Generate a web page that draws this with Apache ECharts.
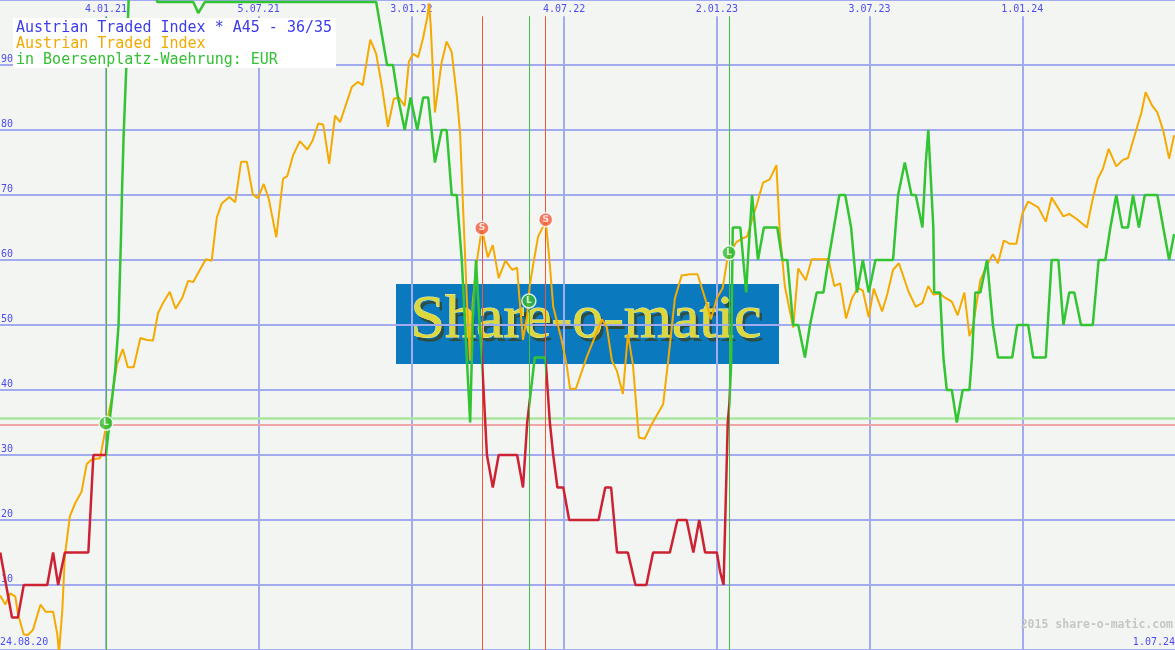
<!DOCTYPE html>
<html><head><meta charset="utf-8">
<script src="https://cdn.jsdelivr.net/npm/echarts@6/dist/echarts.min.js"></script>
<style>html,body{margin:0;padding:0;background:#f3f5f2;}#c{width:1175px;height:650px;}</style>
</head><body><div id="c"></div>
<script>
// x values are days since 24.08.20
const xMin = 6.7, xMax = 1407;
const tickDays = [133, 315, 497, 679, 861, 1043, 1225];
const tickLabels = ['4.01.21', '5.07.21', '3.01.22', '4.07.22', '2.01.23', '3.07.23', '1.01.24'];
const edgeDays = [6.7, 1407];
const edgeLabels = ['24.08.20', '1.07.24'];

// Austrian Traded Index (scaled)
const atiData = [[7,8.4],[13,7.0],[19,8.7],[25,8.2],[28,5.6],[35,2.4],[40,2.3],[46,3.1],[55,7.0],[61,5.9],[70,5.9],[75,2.4],[77,-0.5],[81,6.2],[84,14.5],[90,20.6],[96,22.5],[104,24.4],[110,28.6],[116,29.3],[126,29.5],[132,33.7],[140,38.8],[146,43.9],[153,46.3],[159,43.5],[166,43.5],[174,48.0],[182,47.7],[189,47.6],[195,51.8],[201,53.4],[209,55.1],[216,52.5],[224,54.2],[231,56.8],[237,56.6],[245,58.5],[252,60.1],[259,59.9],[265,66.5],[271,68.7],[280,69.7],[287,68.9],[294,75.1],[301,75.1],[308,70.1],[314,69.5],[321,71.7],[327,69.4],[336,63.5],[344,72.5],[349,72.9],[356,76.1],[364,78.3],[373,77.0],[379,78.3],[386,81.0],[392,80.8],[399,74.8],[406,82.2],[412,81.2],[420,84.3],[426,86.6],[433,87.4],[439,86.9],[448,93.9],[455,91.7],[462,86.6],[469,80.5],[476,84.8],[482,85.0],[489,83.7],[494,90.5],[499,91.7],[505,91.2],[511,94.2],[516,97.4],[518,99.5],[520,96.1],[525,82.7],[533,90.4],[539,93.6],[545,92.0],[551,85.3],[555,79.6],[559,66.8],[563,54.1],[567,44.5],[570,53.4],[575,59.8],[581,64.9],[588,60.4],[594,62.3],[601,57.2],[609,59.9],[617,58.5],[623,58.8],[625,55.3],[630,47.7],[635,51.5],[638,56.0],[642,59.2],[648,63.6],[653,64.9],[657,66.2],[662,59.2],[666,52.8],[676,47.7],[682,43.9],[686,40.2],[693,40.2],[706,45.1],[716,48.3],[724,50.9],[730,49.6],[736,44.5],[742,42.9],[749,39.4],[755,48.6],[761,43.9],[768,32.7],[775,32.5],[784,34.9],[797,37.8],[803,44.5],[811,54.1],[819,57.6],[829,57.8],[838,57.8],[847,54.1],[854,50.9],[861,54.1],[868,55.7],[873,59.8],[877,61.1],[884,62.7],[891,63.3],[897,63.6],[903,66.2],[909,68.7],[916,71.9],[924,72.4],[932,74.6],[936,64.3],[942,56.0],[952,49.6],[958,58.7],[967,56.9],[974,60.1],[984,60.1],[994,60.1],[1001,56.0],[1008,56.4],[1015,51.0],[1022,54.1],[1029,55.7],[1035,55.3],[1042,51.2],[1048,55.6],[1058,52.1],[1064,54.7],[1071,58.5],[1078,59.5],[1089,55.3],[1098,52.8],[1106,53.4],[1113,56.0],[1119,54.7],[1127,54.8],[1133,54.2],[1141,53.6],[1148,51.5],[1156,55.0],[1162,48.3],[1166,49.6],[1175,56.9],[1183,59.2],[1190,60.9],[1196,59.5],[1203,63.0],[1210,62.5],[1218,62.5],[1225,67.1],[1232,69.0],[1244,68.1],[1253,65.9],[1260,69.6],[1274,66.7],[1281,67.1],[1291,66.2],[1302,65.0],[1309,69.4],[1315,72.5],[1321,74.0],[1328,77.1],[1337,74.4],[1345,75.4],[1351,75.7],[1359,79.2],[1367,82.7],[1372,85.8],[1380,83.7],[1386,82.7],[1393,79.9],[1400,75.6],[1406,79.2]];

// A45 indicator (red when out of the market, green when invested)
const a45Data = [[7,15],[21,5],[28,5],[35,10],[63,10],[70,15],[76,10],[84,15],[112,15],[118,30],[133,30],[138,36],[144,43],[148,50],[149,55],[151,64],[152,70],[154,79],[157,89],[160,100],[173,108],[189,108],[194,99.7],[237,99.7],[243,98],[245,98],[251,99.7],[455,99.7],[468,90],[475,90],[481,85],[489,80],[496,85],[504,80],[511,85],[517,85],[525,75],[533,80],[539,80],[545,70],[551,70],[557,60],[561,50],[563,45],[567,35],[570,50],[574,60],[576,55],[581,45],[587,30],[594,25],[601,30],[623,30],[630,25],[635,35],[637,35],[644,45],[656,45],[657,44.5],[662,35],[666,30],[671,25],[678,25],[685,20],[720,20],[728,25],[735,25],[742,15],[755,15],[764,10],[777,10],[785,15],[805,15],[814,20],[825,20],[833,15],[840,20],[847,15],[861,15],[865,12],[869,10],[871,20],[874,35],[876,38],[878,44],[879,55],[880,65],[889,65],[896,55],[898,60],[903,70],[910,60],[917,65],[933,65],[939,60],[945,60],[952,50],[958,50],[966,45],[972,50],[980,55],[988,55],[994,60],[1007,70],[1014,70],[1021,65],[1028,55],[1035,60],[1042,55],[1050,60],[1071,60],[1077,70],[1085,75],[1093,70],[1098,70],[1106,65],[1110,75],[1113,80],[1115,75],[1119,65],[1120,55],[1127,55],[1131,45],[1135,40],[1141,40],[1147,35],[1154,40],[1162,40],[1165,45],[1169,55],[1175,55],[1183,60],[1190,50],[1196,45],[1213,45],[1219,50],[1232,50],[1238,45],[1253,45],[1260,60],[1268,60],[1274,50],[1281,55],[1287,55],[1295,50],[1309,50],[1316,60],[1324,60],[1330,65],[1337,70],[1344,65],[1351,65],[1357,70],[1364,65],[1371,70],[1386,70],[1393,65],[1400,60],[1406,64]];

const signalDays = [133, 581, 637, 657, 875.5];
const signalTypes = ['L', 'S', 'L', 'S', 'L'];
const signalPrices = [34.9, 64.9, 53.7, 66.2, 61.1];
const buyLevel = 35.7, sellLevel = 34.7;

const GREEN = '#33c433', RED = '#cc2233', ORANGE = '#f4aa00';
const GRID = '#a2abf0', LABEL = '#4c4cf0', MONO = '"DejaVu Sans Mono", monospace';
const LINE_TOP = 97.5;

// visual pieces: red before first buy, green after L, red after S
const pieces = [];
let prev = null;
signalDays.forEach(function (d, i) {
  const p = { lt: d, color: i === 0 ? RED : (signalTypes[i - 1] === 'L' ? GREEN : RED) };
  if (prev !== null) p.gte = prev;
  pieces.push(p);
  prev = d;
});
pieces.push({ gte: prev, color: signalTypes[signalTypes.length - 1] === 'L' ? GREEN : RED });

const markData = [];
tickDays.forEach(function (d) {
  markData.push([{ coord: [d, LINE_TOP], lineStyle: { color: GRID, width: 2, type: 'solid' } }, { coord: [d, 0] }]);
});
markData.push([{ coord: [xMin, buyLevel], lineStyle: { color: '#a8e6a0', width: 2.5, type: 'solid' } }, { coord: [xMax, buyLevel] }]);
markData.push([{ coord: [xMin, sellLevel], lineStyle: { color: '#f0a6a6', width: 2, type: 'solid' } }, { coord: [xMax, sellLevel] }]);
signalDays.forEach(function (d, i) {
  markData.push([{ coord: [d, LINE_TOP], lineStyle: { color: signalTypes[i] === 'L' ? '#44bb44' : '#f05535', width: 1, type: 'solid' } }, { coord: [d, 0] }]);
});

const chart = echarts.init(document.getElementById('c'), null, { renderer: 'canvas' });
chart.setOption({
  backgroundColor: '#f3f5f2',
  animation: false,
  grid: { left: 0, right: 0, top: 0, bottom: 0, containLabel: false, outerBoundsMode: 'none' },
  xAxis: [{
    type: 'value', position: 'top', min: xMin, max: xMax,
    axisLine: { show: false }, axisTick: { show: false }, splitLine: { show: false },
    axisLabel: {
      inside: true, margin: 4, color: LABEL, fontSize: 10, fontFamily: MONO,
      customValues: tickDays,
      formatter: function (v) { const i = tickDays.indexOf(v); return i >= 0 ? tickLabels[i] : ''; }
    }
  }, {
    type: 'value', position: 'bottom', min: xMin, max: xMax,
    axisLine: { show: false }, axisTick: { show: false }, splitLine: { show: false },
    axisLabel: {
      inside: true, margin: 3, color: LABEL, fontSize: 10, fontFamily: MONO,
      customValues: edgeDays, showMinLabel: true, showMaxLabel: true,
      alignMinLabel: 'left', alignMaxLabel: 'right',
      formatter: function (v) { const i = edgeDays.indexOf(v); return i >= 0 ? edgeLabels[i] : ''; }
    }
  }],
  yAxis: {
    type: 'value', min: 0, max: 100, interval: 10,
    axisLine: { show: false }, axisTick: { show: false },
    splitLine: { show: true, lineStyle: { color: GRID, width: 2 } },
    axisLabel: {
      inside: true, margin: 1, color: LABEL, fontSize: 10, fontFamily: MONO,
      verticalAlign: 'bottom', padding: [0, 0, 1, 0], showMinLabel: false, showMaxLabel: false
    }
  },
  visualMap: { type: 'piecewise', show: false, dimension: 0, seriesIndex: 2, pieces: pieces },
  series: [{
    type: 'line', data: [], z: 1, silent: true,
    markLine: { z: 1, silent: true, symbol: ['none', 'none'], label: { show: false }, animation: false, data: markData }
  }, {
    name: 'Austrian Traded Index', type: 'line', data: atiData, z: 3, symbol: 'none',
    lineStyle: { color: ORANGE, width: 2 }, itemStyle: { color: ORANGE }
  }, {
    name: 'A45', type: 'line', data: a45Data, z: 4, symbol: 'none',
    lineStyle: { width: 2.5 }
  }, {
    name: 'Signals', type: 'scatter', z: 10, symbol: 'circle', symbolSize: 14,
    data: signalDays.map(function (d, i) {
      return {
        value: [d, signalPrices[i]],
        itemStyle: { color: signalTypes[i] === 'L' ? '#33bb33' : '#f05a3c', borderColor: '#ffffff', borderWidth: 1.5 },
        label: { formatter: signalTypes[i] }
      };
    }),
    label: { show: true, position: 'inside', color: '#ffffff', fontSize: 9, fontWeight: 'bold', fontFamily: '"DejaVu Sans", sans-serif' }
  }],
  graphic: [
    { type: 'rect', z: -10, silent: true, shape: { x: 396, y: 284, width: 383, height: 80 }, style: { fill: '#0a79bd' } },
    { type: 'text', z: -9, silent: true, x: 589, y: 325, style: { text: 'Share-o-matic', font: '62px "Liberation Serif", serif', fill: '#3a3c10', align: 'center', verticalAlign: 'middle', opacity: 0.7 } },
    { type: 'text', z: -8, silent: true, x: 586, y: 321, style: { text: 'Share-o-matic', font: '62px "Liberation Serif", serif', fill: '#dcd83c', stroke: '#f4f4c0', lineWidth: 0.8, align: 'center', verticalAlign: 'middle' } },
    { type: 'rect', z: 100, silent: true, shape: { x: 13, y: 18, width: 323, height: 50 }, style: { fill: '#ffffff' } },
    { type: 'text', z: 101, silent: true, x: 16, y: 28, style: { text: 'Austrian Traded Index * A45 - 36/35', font: '15px ' + MONO, fill: '#3c3cea', verticalAlign: 'middle' } },
    { type: 'text', z: 101, silent: true, x: 16, y: 44, style: { text: 'Austrian Traded Index', font: '15px ' + MONO, fill: '#f2aa00', verticalAlign: 'middle' } },
    { type: 'text', z: 101, silent: true, x: 16, y: 60, style: { text: 'in Boersenplatz-Waehrung: EUR', font: '15px ' + MONO, fill: '#33c033', verticalAlign: 'middle' } },
    { type: 'text', z: 101, silent: true, x: 1173, y: 625, style: { text: '2015 share-o-matic.com', font: 'bold 11.5px ' + MONO, fill: '#c6c6c6', align: 'right', verticalAlign: 'middle' } }
  ]
});
</script></body></html>
